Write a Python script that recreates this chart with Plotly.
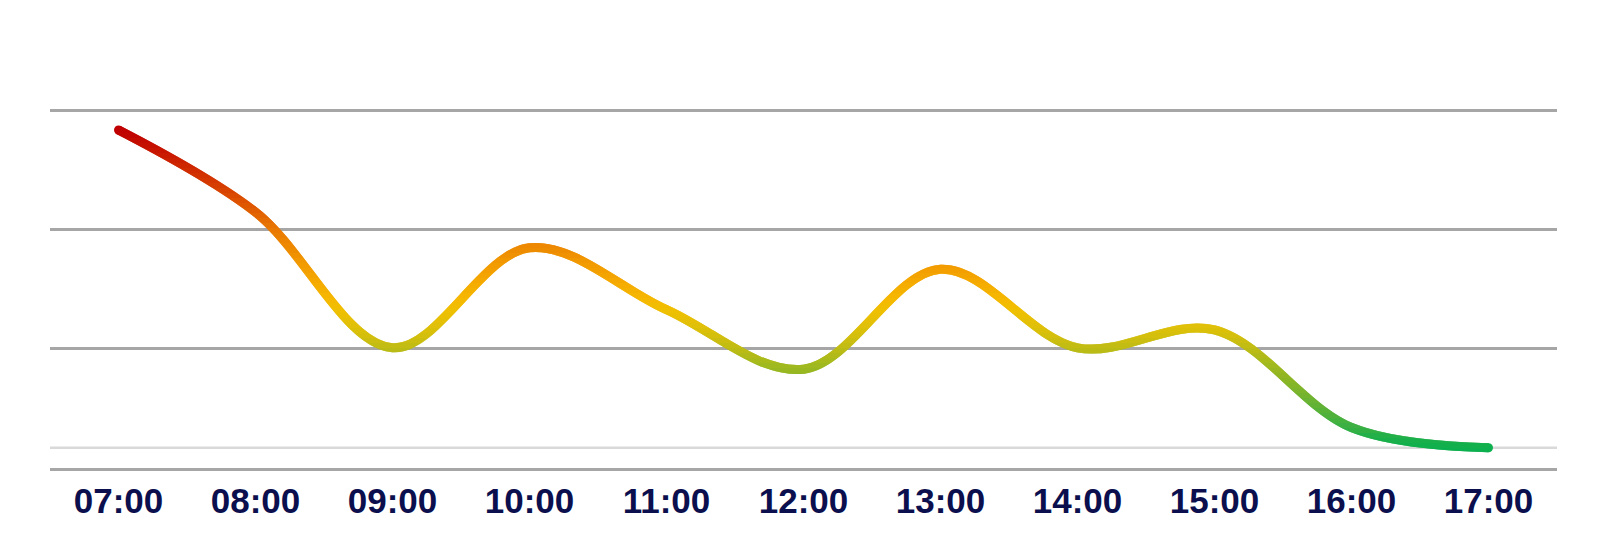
import plotly.graph_objects as go

# ---- data ----
hours = ["07:00", "08:00", "09:00", "10:00", "11:00", "12:00",
         "13:00", "14:00", "15:00", "16:00", "17:00"]
values = [28.4, 21.5, 10.1, 18.5, 13.3, 8.3, 16.7, 10.1, 11.6, 3.4, 1.7]
grid_values = [10, 20, 30]
reference_value = 1.7

# colour stops (value -> colour) for the vertical gradient of the line
stop_values = [1.7, 3.0, 6.0, 9.0, 11.0, 13.5, 16.0, 20.0, 24.0, 28.4]
stop_colors = ["#0db04e", "#30b048", "#74b430", "#a8ba1c", "#d4c010",
               "#f5c000", "#f6a800", "#ea7a00", "#d63a00", "#c00000"]

# ---- layout constants ----
W, H = 1608, 553
M_L, M_R, M_T, M_B = 50, 51, 80, 85
Y_MAX = 32.6
LINE_W = 9
BAND_PX = 20      # height of one colour band (>= ~20px to keep spline intact)
N_LAYERS = 4      # offset layers blended together for a smooth gradient


def hex2rgb(h):
    h = h.lstrip("#")
    return tuple(int(h[i:i + 2], 16) for i in (0, 2, 4))


def color_at(v):
    if v <= stop_values[0]:
        return stop_colors[0]
    if v >= stop_values[-1]:
        return stop_colors[-1]
    for i in range(len(stop_values) - 1):
        a, b = stop_values[i], stop_values[i + 1]
        if a <= v <= b:
            t = (v - a) / (b - a)
            c0, c1 = hex2rgb(stop_colors[i]), hex2rgb(stop_colors[i + 1])
            c = [round(c0[k] + (c1[k] - c0[k]) * t) for k in range(3)]
            return "rgb({},{},{})".format(*c)
    return stop_colors[-1]


fig = go.Figure()

plot_h = H - M_T - M_B
layout_axes = {}

# endpoint caps (main subplot, drawn underneath)
fig.add_trace(go.Scatter(
    x=[hours[0], hours[-1]], y=[values[0], values[-1]], mode="markers",
    marker=dict(size=LINE_W, color=[color_at(values[0]), color_at(values[-1])]),
    hoverinfo="skip", showlegend=False, xaxis="x", yaxis="y"))

# the same spline, drawn once per horizontal band, each clipped to its band;
# several offset layers are averaged (opacity 1, 1/2, 1/3, ...)
axis_num = 10  # two-digit ids keep alphabetical == numeric ordering
for k in range(N_LAYERS):
    shift = k * BAND_PX // N_LAYERS
    edges = [0]
    e = shift + BAND_PX
    while e + BAND_PX <= plot_h:
        edges.append(e)
        e += BAND_PX
    edges.append(plot_h)
    for j in range(len(edges) - 1):
        p0, p1 = edges[j], edges[j + 1]
        d0, d1 = p0 / plot_h, p1 / plot_h
        y0, y1 = d0 * Y_MAX, d1 * Y_MAX
        layout_axes["yaxis%d" % axis_num] = dict(
            domain=[d0, d1], range=[y0, y1], visible=False, anchor="x",
            fixedrange=True, showgrid=False, zeroline=False)
        fig.add_trace(go.Scatter(
            x=hours, y=values, mode="lines", opacity=1.0 / (k + 1),
            line=dict(shape="spline", smoothing=1.0, width=LINE_W,
                      simplify=False, color=color_at((y0 + y1) / 2)),
            hoverinfo="skip", showlegend=False, xaxis="x",
            yaxis="y%d" % axis_num))
        axis_num += 1

fig.update_layout(
    width=W, height=H,
    margin=dict(l=M_L, r=M_R, t=M_T, b=M_B),
    paper_bgcolor="white", plot_bgcolor="rgba(0,0,0,0)",
    showlegend=False,
    xaxis=dict(type="category", categoryorder="array", categoryarray=hours,
               range=[-0.5, len(hours) - 0.5], showgrid=False, zeroline=False,
               showline=True, linecolor="#a6a6a6", linewidth=2.5,
               ticks="", fixedrange=True,
               tickfont=dict(family="Liberation Sans", size=35, color="#0b0f4d",
                             weight="bold")),
    yaxis=dict(range=[0, Y_MAX], domain=[0, 1], tickvals=grid_values,
               showticklabels=False, showgrid=True, gridcolor="#a6a6a6",
               gridwidth=2.5, zeroline=False, showline=False, fixedrange=True),
    shapes=[dict(type="line", xref="paper", x0=0, x1=1, yref="y",
                 y0=reference_value, y1=reference_value,
                 line=dict(color="#d9d9d9", width=2.5), layer="below")],
    **layout_axes,
)

fig.write_html("out.html",
               config={"displayModeBar": False},
               post_script="document.body.style.margin='0';")
